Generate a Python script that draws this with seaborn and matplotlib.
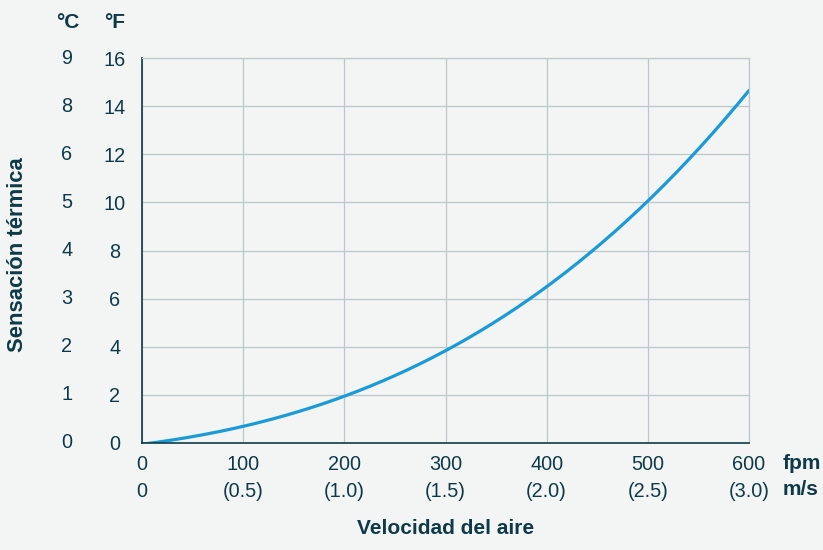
import numpy as np
import pandas as pd
import seaborn as sns
import matplotlib.pyplot as plt

# Curve: air speed (fpm) vs. wind chill (°F)
velocidad_fpm = [0, 50, 100, 150, 200, 250, 300, 350, 400, 450, 500, 550, 600]
sensacion_f = [0.0, 0.25, 0.62, 1.2, 1.95, 2.85, 3.9, 5.1, 6.5, 8.1, 10.0, 12.2, 14.7]

x_ticks = [0, 100, 200, 300, 400, 500, 600]
x_labels_ms = ["0", "(0.5)", "(1.0)", "(1.5)", "(2.0)", "(2.5)", "(3.0)"]
f_ticks = [0, 2, 4, 6, 8, 10, 12, 14, 16]
c_labels = ["0", "1", "2", "3", "4", "5", "6", "8", "9"]

bg = "#f3f4f4"
ink = "#0e3a48"
grid = "#bcc8cc"
blue = "#1b9ad8"
fs = 14.3
fsb = 15

sns.set_theme(style="white")
plt.rcParams['font.family'] = ['Liberation Sans', 'DejaVu Sans']

fig = plt.figure(figsize=(8.23, 5.5), dpi=100, facecolor=bg)
ax = fig.add_axes([142 / 823, 1 - 443 / 550, 607 / 823, 385 / 550])
ax.set_facecolor(bg)

# cubic fit through the read points, only to draw a smooth line
xs = np.linspace(0, 600, 200)
coef = np.polyfit(velocidad_fpm, sensacion_f, 3)
smooth = pd.DataFrame({"fpm": xs, "F": np.polyval(coef, xs)})
sns.lineplot(data=smooth, x="fpm", y="F", ax=ax, color=blue, linewidth=2.3)

ax.set_xlim(0, 600)
ax.set_ylim(0, 16)
ax.set_xticks(x_ticks)
ax.set_xticklabels([f"{a}\n{b}" for a, b in zip(x_ticks, x_labels_ms)],
                   fontsize=fs, color=ink, linespacing=1.5)
ax.set_yticks(f_ticks)
ax.set_yticklabels([str(v) for v in f_ticks], fontsize=fs, color=ink, ha="center")
ax.tick_params(axis="both", length=0)
ax.tick_params(axis="y", pad=19.5)
ax.tick_params(axis="x", pad=9)

ax.grid(True, color=grid, linewidth=0.9)
for s in ["top", "right"]:
    ax.spines[s].set_color(grid)
    ax.spines[s].set_linewidth(0.9)
for s in ["left", "bottom"]:
    ax.spines[s].set_color(ink)
    ax.spines[s].set_linewidth(1.2)

# °C column
ytr = ax.get_yaxis_transform()
for v, lab in zip(f_ticks, c_labels):
    ax.text(-0.1236, v, lab, transform=ytr, ha="center", va="center",
            fontsize=fs, color=ink)

ax.text(-0.1220, 1.0935, "°C", transform=ax.transAxes, ha="center", va="center",
        fontsize=fsb, color=ink, fontweight="bold")
ax.text(-0.0445, 1.0935, "°F", transform=ax.transAxes, ha="center", va="center",
        fontsize=fsb, color=ink, fontweight="bold")

ax.text(1.055, -0.052, "fpm", transform=ax.transAxes, ha="left", va="center",
        fontsize=fsb, color=ink, fontweight="bold")
ax.text(1.055, -0.12, "m/s", transform=ax.transAxes, ha="left", va="center",
        fontsize=fsb, color=ink, fontweight="bold")

fig.text(446 / 823, 1 - 529 / 550, "Velocidad del aire", ha="center", va="center",
         fontsize=fsb, color=ink, fontweight="bold")
fig.text(18 / 823, 1 - 255 / 550, "Sensación térmica", ha="center", va="center",
         rotation=90, fontsize=15.8, color=ink, fontweight="bold")

ax.set_xlabel("")
ax.set_ylabel("")

fig.savefig("out.png", dpi=100, facecolor=bg)
